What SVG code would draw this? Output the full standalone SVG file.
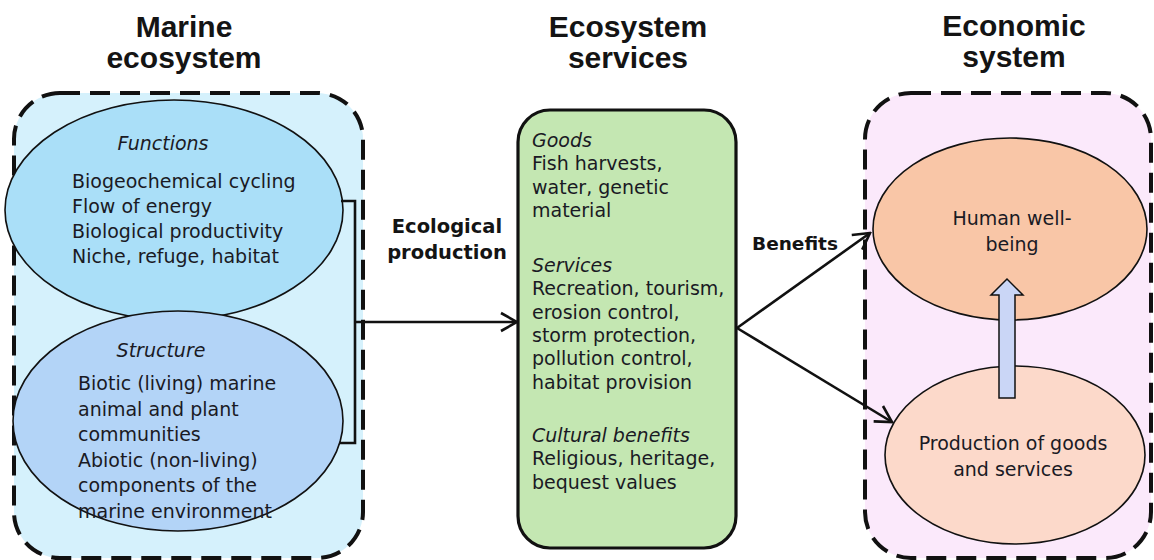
<svg xmlns="http://www.w3.org/2000/svg" width="1154" height="560" viewBox="0 0 1154 560">
<style>
.title{font-family:"Liberation Sans",Arial,sans-serif;font-weight:bold;font-size:30px;fill:#141414;text-anchor:middle}
.body{font-family:"DejaVu Sans","Liberation Sans",sans-serif;font-size:19px;fill:#1a1a24}
.it{font-style:italic}
.lbl{font-family:"DejaVu Sans","Liberation Sans",sans-serif;font-size:18.5px;font-weight:bold;fill:#141414;text-anchor:middle}
.mid{text-anchor:middle}
.dash{stroke:#111;stroke-width:4;stroke-dasharray:20 10}
.ell{stroke:#111;stroke-width:1.6}
.conn{fill:none;stroke:#111;stroke-width:2.6}
</style>
<defs>
<marker id="open" markerUnits="userSpaceOnUse" markerWidth="20" markerHeight="22" viewBox="0 0 20 22" refX="18" refY="11" orient="auto">
<path d="M2,2 L18,11 L2,20" fill="none" stroke="#111" stroke-width="2.6"/>
</marker>
</defs>
<rect width="1154" height="560" fill="#fff"/>

<g id="marine-ecosystem">
<text class="title" x="184" y="37">Marine</text>
<text class="title" x="184" y="68">ecosystem</text>
<rect class="dash" x="14" y="93" width="349" height="465" rx="46" fill="#d5f1fc"/>
</g>

<g id="functions">
<ellipse class="ell" cx="174" cy="210" rx="169" ry="110" fill="#aadff8"/>
<text class="body it mid" x="163" y="150">Functions</text>
<text class="body" x="72" y="188">Biogeochemical cycling</text>
<text class="body" x="72" y="213">Flow of energy</text>
<text class="body" x="72" y="238">Biological productivity</text>
<text class="body" x="72" y="263">Niche, refuge, habitat</text>
</g>

<g id="structure">
<ellipse class="ell" cx="178" cy="421" rx="165" ry="110" fill="#b3d4f7"/>
<text class="body it mid" x="161" y="357">Structure</text>
<text class="body" x="78" y="390">Biotic (living) marine</text>
<text class="body" x="78" y="415.5">animal and plant</text>
<text class="body" x="78" y="441">communities</text>
<text class="body" x="78" y="466.5">Abiotic (non-living)</text>
<text class="body" x="78" y="492">components of the</text>
<text class="body" x="78" y="517.5">marine environment</text>
</g>

<g id="ecosystem-services">
<text class="title" x="628" y="37">Ecosystem</text>
<text class="title" x="628" y="68">services</text>
<rect x="518" y="110" width="218" height="438" rx="32" fill="#c4e7b2" stroke="#111" stroke-width="3.2"/>
<text class="body it" x="532" y="147">Goods</text>
<text class="body" x="532" y="170">Fish harvests,</text>
<text class="body" x="532" y="193.5">water, genetic</text>
<text class="body" x="532" y="217">material</text>
<text class="body it" x="532" y="272">Services</text>
<text class="body" x="532" y="295">Recreation, tourism,</text>
<text class="body" x="532" y="318.5">erosion control,</text>
<text class="body" x="532" y="342">storm protection,</text>
<text class="body" x="532" y="365">pollution control,</text>
<text class="body" x="532" y="388.5">habitat provision</text>
<text class="body it" x="532" y="442">Cultural benefits</text>
<text class="body" x="532" y="465">Religious, heritage,</text>
<text class="body" x="532" y="488.5">bequest values</text>
</g>

<g id="economic-system">
<text class="title" x="1014" y="36">Economic</text>
<text class="title" x="1014" y="67">system</text>
<rect class="dash" x="865" y="93" width="286" height="465" rx="46" fill="#fbe9fb"/>
</g>

<g id="human-well-being">
<ellipse class="ell" cx="1010" cy="229" rx="137" ry="91" fill="#f9c6a7"/>
<text class="body mid" x="1012" y="225">Human well-</text>
<text class="body mid" x="1012" y="251">being</text>
</g>

<g id="production">
<ellipse class="ell" cx="1015" cy="455" rx="130" ry="89" fill="#fcd9ca"/>
<text class="body mid" x="1013" y="450">Production of goods</text>
<text class="body mid" x="1013" y="476">and services</text>
</g>

<g id="connectors">
<path class="conn" d="M341,201 H355 V443 H339" stroke-width="2"/>
<path class="conn" d="M355,322 H517" marker-end="url(#open)"/>
<path class="conn" d="M737,328 L870,233" marker-end="url(#open)"/>
<path class="conn" d="M737,328 L892,422" marker-end="url(#open)"/>
<polygon points="999,398 999,295 991,295 1007,279 1023,295 1015,295 1015,398" fill="#cad6f6" stroke="#111" stroke-width="1.5"/>
<text class="lbl" x="447" y="233" style="font-size:19.5px">Ecological</text>
<text class="lbl" x="447" y="259" style="font-size:19.5px">production</text>
<text class="lbl" x="795" y="250">Benefits</text>
</g>
</svg>
